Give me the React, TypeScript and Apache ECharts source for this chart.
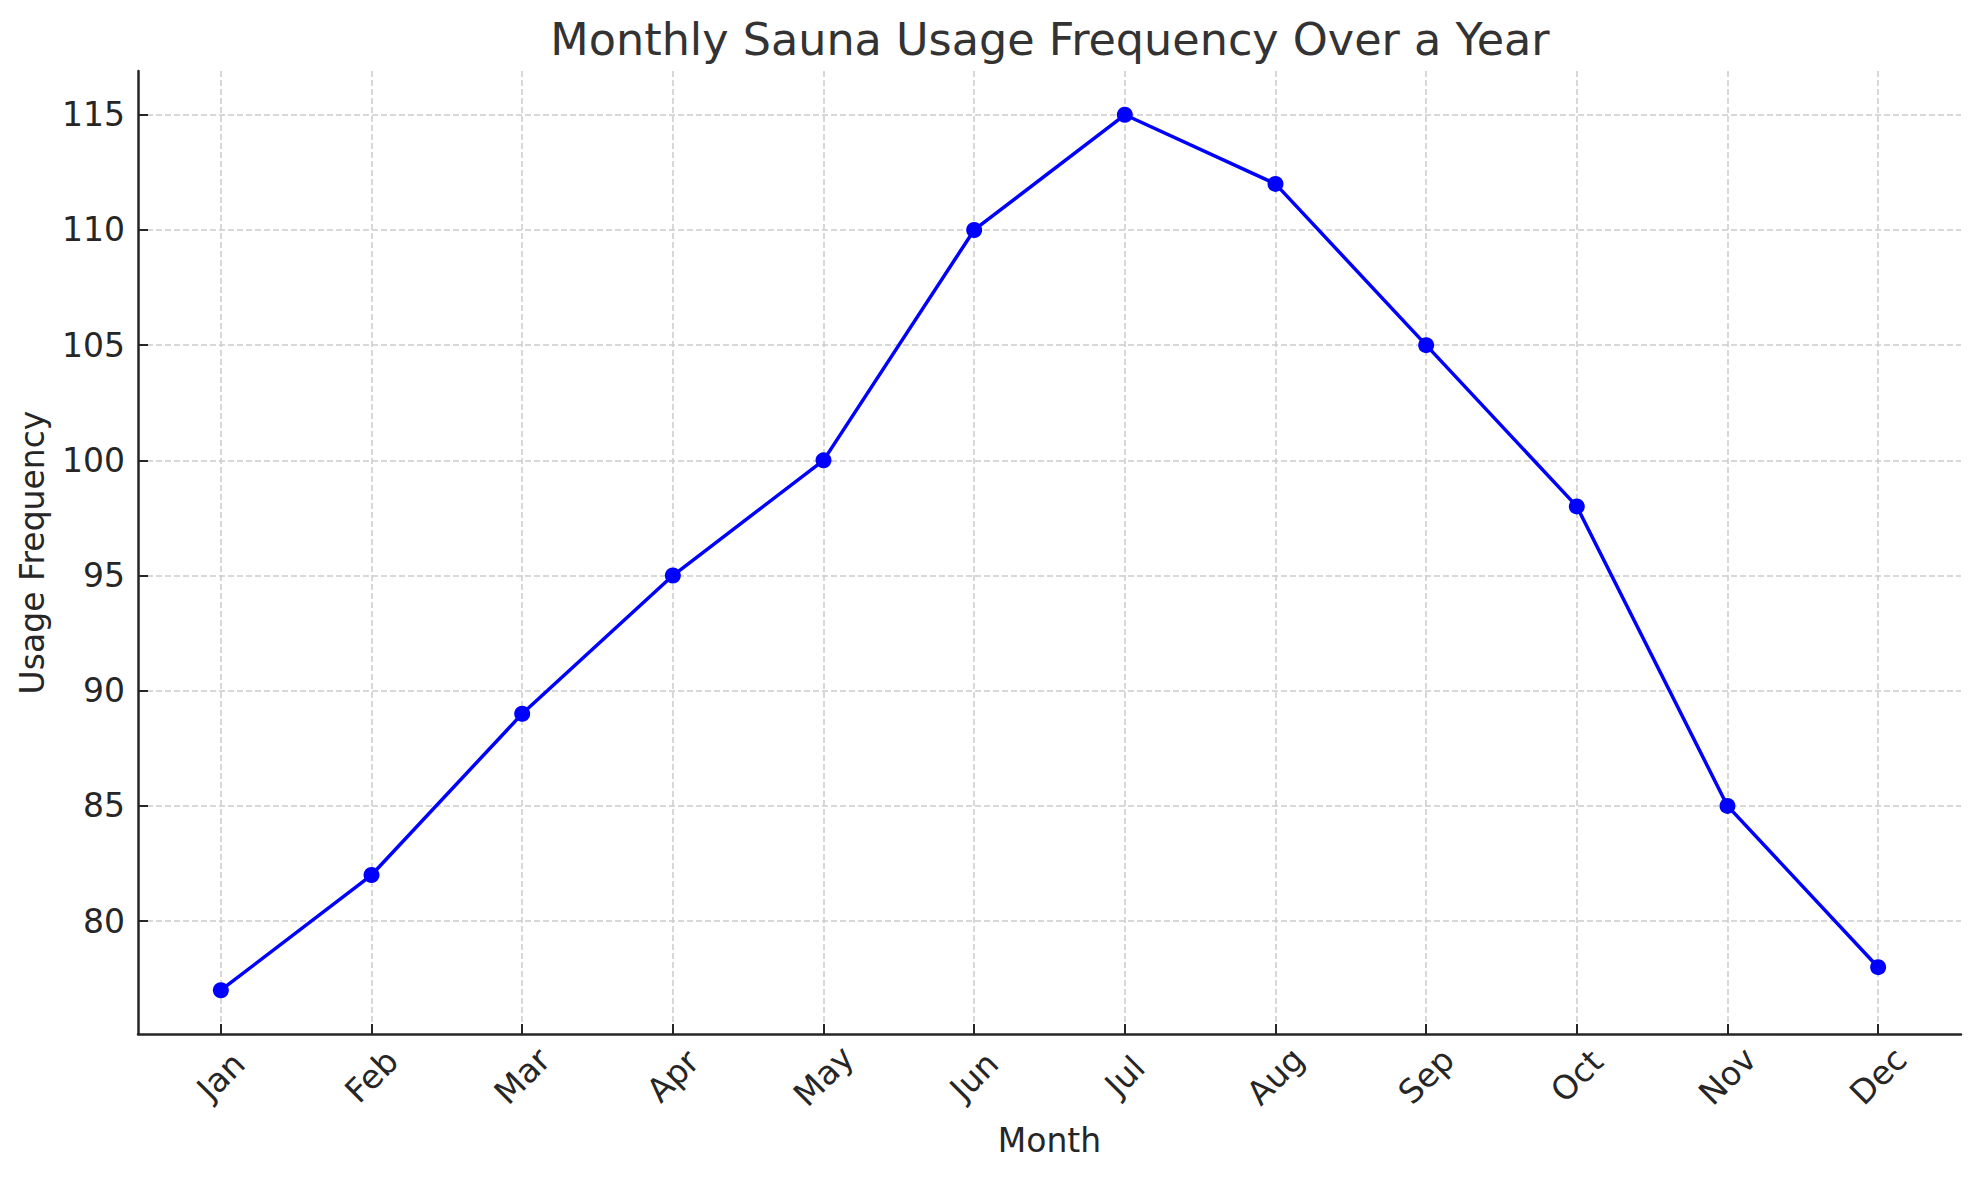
import React, { useEffect, useRef } from "react";
import * as echarts from "echarts";

const months = ["Jan", "Feb", "Mar", "Apr", "May", "Jun", "Jul", "Aug", "Sep", "Oct", "Nov", "Dec"];
const usage = [77, 82, 89, 95, 100, 110, 115, 112, 105, 98, 85, 78];
const yTicks = [80, 85, 90, 95, 100, 105, 110, 115];
const xTicks = months.map((_, i) => i);

const FONT = "DejaVu Sans";

export default function App() {
  const ref = useRef<HTMLDivElement>(null);
  useEffect(() => {
    document.body.style.margin = "0";
    const chart = echarts.init(ref.current!, null, { renderer: "svg" });
    const gridLine = { show: true, lineStyle: { color: "#cccccc", width: 1.5, type: [6, 3] } };
    chart.setOption({
      animation: false,
      backgroundColor: "#ffffff",
      title: {
        text: "Monthly Sauna Usage Frequency Over a Year",
        left: 1050,
        top: 17,
        padding: 0,
        textAlign: "center",
        textStyle: { fontFamily: FONT, fontSize: 44.5, fontWeight: "normal", color: "#333333" },
      },
      grid: { left: 138, right: 18, top: 71, bottom: 146, containLabel: false },
      xAxis: {
        type: "value",
        min: -0.55,
        max: 11.55,
        name: "Month",
        nameLocation: "middle",
        nameGap: 90,
        nameTextStyle: { fontFamily: FONT, fontSize: 33, color: "#262626" },
        axisLine: { show: true, onZero: false, lineStyle: { color: "#262626", width: 2.5 } },
        axisTick: { show: true, inside: true, length: 10, customValues: xTicks, lineStyle: { color: "#262626", width: 2 } },
        axisLabel: {
          customValues: xTicks,
          formatter: (v: number) => months[Math.round(v)],
          rotate: 45,
          align: "center",
          verticalAlign: "middle",
          margin: 42,
          fontFamily: FONT,
          fontSize: 33,
          color: "#262626",
        },
        splitLine: gridLine,
      },
      yAxis: {
        type: "value",
        min: 75.1,
        max: 116.9,
        name: "Usage Frequency",
        nameLocation: "middle",
        nameRotate: 90,
        nameGap: 89,
        nameTextStyle: { fontFamily: FONT, fontSize: 33, color: "#262626" },
        axisLine: { show: true, onZero: false, lineStyle: { color: "#262626", width: 2.5 } },
        axisTick: { show: true, inside: true, length: 10, customValues: yTicks, lineStyle: { color: "#262626", width: 2 } },
        axisLabel: {
          customValues: yTicks,
          margin: 13,
          fontFamily: FONT,
          fontSize: 33,
          color: "#262626",
        },
        splitLine: gridLine,
      },
      series: [
        {
          type: "line",
          data: usage.map((v, i) => [i, v]),
          symbol: "circle",
          symbolSize: 16,
          itemStyle: { color: "#0000ff" },
          lineStyle: { color: "#0000ff", width: 3.5 },
        },
      ],
    });
    return () => chart.dispose();
  }, []);
  return <div ref={ref} style={{ position: "absolute", left: 0, top: 0, width: 1979, height: 1180 }} />;
}
